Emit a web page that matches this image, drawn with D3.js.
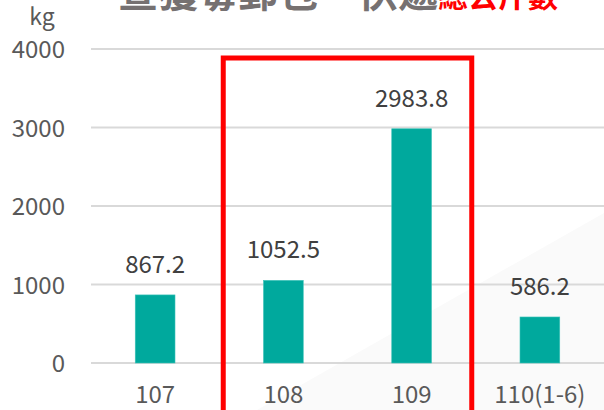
<!DOCTYPE html>
<html>
<head>
<meta charset="utf-8">
<script src="https://cdn.jsdelivr.net/npm/d3@7"></script>
<style>
  body { margin: 0; background: #fff; }
  svg { display: block; font-family: "Noto Sans CJK TC", "Noto Sans", sans-serif; }
</style>
</head>
<body>
<div id="chart"></div>
<script>
const years = ["107", "108", "109", "110(1-6)"];
const kgValues = [867.2, 1052.5, 2983.8, 586.2];
const yTicks = [0, 1000, 2000, 3000, 4000];
const highlighted = ["108", "109"];

const W = 604, H = 410;
const margin = { top: 49, right: 0, bottom: 47, left: 91 };

const svg = d3.select("#chart").append("svg")
  .attr("width", W)
  .attr("height", H);

// faint diagonal background shade, lower right
svg.append("polygon")
  .attr("points", "257,410 604,213 604,410")
  .attr("fill", "#fafafa");

const x = d3.scaleBand()
  .domain(years)
  .range([margin.left, W - margin.right])
  .paddingInner(0.69)
  .paddingOuter(0.345);

const y = d3.scaleLinear()
  .domain([0, 4000])
  .range([H - margin.bottom, margin.top]);

// gridlines
svg.append("g")
  .selectAll("line")
  .data(yTicks)
  .join("line")
  .attr("x1", margin.left)
  .attr("x2", W)
  .attr("y1", d => y(d))
  .attr("y2", d => y(d))
  .attr("stroke", "#d9d9d9")
  .attr("stroke-width", 2);

// y axis labels
const yAxis = svg.append("g")
  .attr("transform", `translate(${margin.left - 24},0)`)
  .call(d3.axisLeft(y).tickValues(yTicks).tickSize(0).tickFormat(d3.format("d")));
yAxis.select(".domain").remove();
yAxis.selectAll("text")
  .attr("x", -2)
  .attr("dy", "0.36em")
  .style("font-size", "24px")
  .style("font-family", "'Noto Sans CJK TC', 'Noto Sans', sans-serif")
  .attr("fill", "#595959");

svg.append("text")
  .attr("x", 42)
  .attr("y", 25)
  .attr("text-anchor", "middle")
  .style("font-size", "23px")
  .attr("fill", "#595959")
  .text("kg");

// bars
svg.append("g")
  .selectAll("rect")
  .data(kgValues)
  .join("rect")
  .attr("x", (d, i) => x(years[i]))
  .attr("y", d => y(d))
  .attr("width", x.bandwidth())
  .attr("height", d => y(0) - y(d))
  .attr("fill", "#00a99d")
  .attr("stroke", "#3cc3b8")
  .attr("stroke-width", 0.6);

// value labels
svg.append("g")
  .selectAll("text")
  .data(kgValues)
  .join("text")
  .attr("x", (d, i) => x(years[i]) + x.bandwidth() / 2)
  .attr("y", d => y(d) - 22)
  .attr("text-anchor", "middle")
  .style("font-size", "24px")
  .attr("fill", "#404040")
  .text(d => d3.format(".1f")(d));

// x axis labels
const xAxis = svg.append("g")
  .attr("transform", `translate(0,${y(0)})`)
  .call(d3.axisBottom(x).tickSize(0));
xAxis.select(".domain").remove();
xAxis.selectAll("text")
  .attr("y", 23)
  .attr("dy", "0.71em")
  .style("font-size", "24px")
  .style("font-family", "'Noto Sans CJK TC', 'Noto Sans', sans-serif")
  .attr("fill", "#595959");

// red highlight box around 108-109
const step = x.step();
const boxLeft = x(highlighted[0]) - (step - x.bandwidth()) / 2 + 4;
const boxRight = x(highlighted[1]) + x.bandwidth() + (step - x.bandwidth()) / 2 - 4;
svg.append("path")
  .attr("d", `M${boxLeft},${H + 10} V58 H${boxRight} V${H + 10}`)
  .attr("fill", "none")
  .attr("stroke", "#ff0000")
  .attr("stroke-width", 5);

// title (cut off at the top)
const title = svg.append("text")
  .attr("x", 118)
  .attr("y", 7)
  .style("font-weight", "bold");
title.append("tspan")
  .style("font-size", "40px")
  .attr("fill", "#767171")
  .text("查獲毒郵包、快遞");
title.append("tspan")
  .style("font-size", "30px")
  .attr("fill", "#ff0000")
  .text("總公斤數");
</script>
</body>
</html>
